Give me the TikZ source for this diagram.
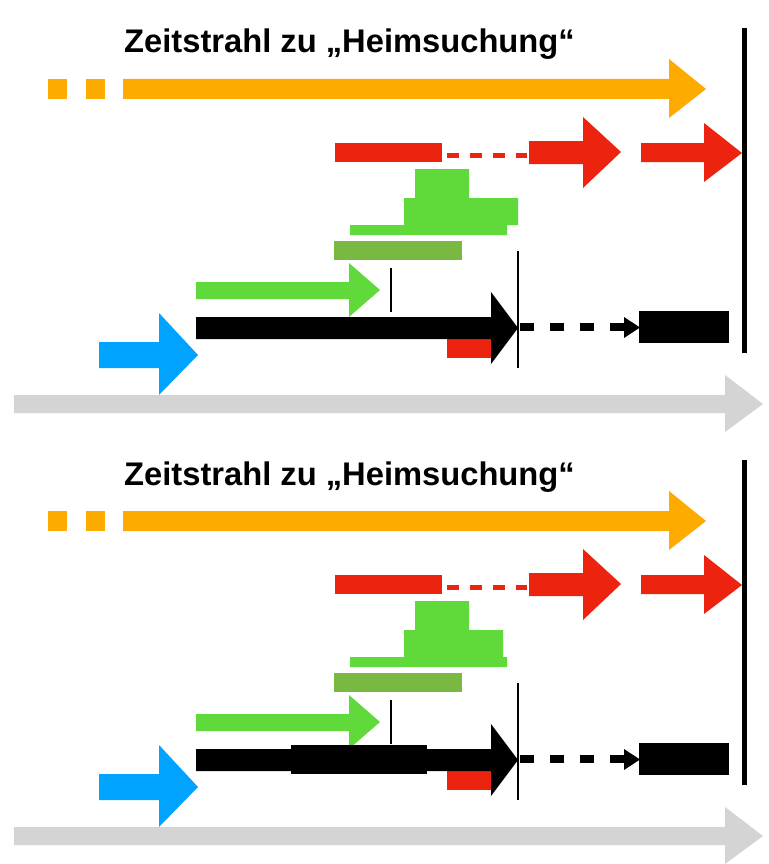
\documentclass[tikz,border=0pt]{standalone}
\usepackage{fontspec}
\setmainfont{Liberation Sans}
\definecolor{zorange}{HTML}{FEAB00}
\definecolor{zred}{HTML}{EC230F}
\definecolor{zgreen}{HTML}{60D93A}
\definecolor{zolive}{HTML}{79B843}
\definecolor{zblue}{HTML}{00A3FF}
\definecolor{zgray}{HTML}{D4D4D4}
\tikzset{
  titletext/.style={anchor=base west, inner sep=0pt, font=\bfseries\fontsize{32.7}{36}\selectfont},
  thinline/.style={line width=2pt, black},
  endline/.style={line width=5pt, black},
}
\newcommand\zpanel[2]{%
  \node[titletext] (title#2) at (124,53) {Zeitstrahl zu „Heimsuchung“};
  % orange
  \fill[zorange] (48,79) rectangle (67,99);
  \fill[zorange] (86,79) rectangle (105,99);
  \fill[zorange] (123,79) -- (669,79) -- (669,59) -- (706,89) -- (669,118) -- (669,99) -- (123,99) -- cycle;
  % red
  \fill[zred] (335,143) rectangle (442,162);
  \draw[zred, line width=5.5pt, dash pattern=on 12pt off 11pt] (447,155.5) -- (527,155.5);
  \fill[zred] (529,141) -- (583,141) -- (583,117) -- (621,152) -- (583,188) -- (583,164) -- (529,164) -- cycle;
  \fill[zred] (641,143) -- (704,143) -- (704,123) -- (742,153) -- (704,182) -- (704,162) -- (641,162) -- cycle;
  % green stack
  \fill[zgreen] (415,169) -- (469,169) -- (469,198) -- (#1,198) -- (#1,225) -- (507,225) -- (507,235) -- (350,235) -- (350,225) -- (404,225) -- (404,198) -- (415,198) -- cycle;
  \fill[zolive] (334,241) rectangle (462,260);
  \fill[zgreen] (196,282) -- (349,282) -- (349,263) -- (380,290) -- (349,317) -- (349,299) -- (196,299) -- cycle;
  \draw[thinline] (391,268) -- (391,312);
  % black
  \fill[zred] (447,339) rectangle (491,358);
  \fill[black] (196,317) -- (491,317) -- (491,292) -- (518,328) -- (491,364) -- (491,339) -- (196,339) -- cycle;
  \draw[thinline] (518,251) -- (518,368);
  \draw[black, line width=8pt, dash pattern=on 14pt off 16pt] (520,327) -- (626,327);
  \fill[black] (624,317) -- (640,327.5) -- (624,338) -- cycle;
  \fill[black] (639,311) rectangle (729,343);
  \draw[endline] (744,28) -- (744,353);
  % gray timeline
  \fill[zgray] (14,395) -- (725,395) -- (725,375) -- (763,404) -- (725,432) -- (725,413) -- (14,413) -- cycle;
  % blue
  \fill[zblue] (99,342) -- (159,342) -- (159,313) -- (198,355) -- (159,395) -- (159,368) -- (99,368) -- cycle;
}
\begin{document}
\begin{tikzpicture}[x=1pt, y=-1pt]
  \useasboundingbox[fill=white] (0,0) rectangle (768,864);
  \zpanel{518}{a}
  \begin{scope}[shift={(0,432)}]
    \zpanel{503}{b}
    \fill[black] (291,313) rectangle (427,342);
  \end{scope}
\end{tikzpicture}
\end{document}
